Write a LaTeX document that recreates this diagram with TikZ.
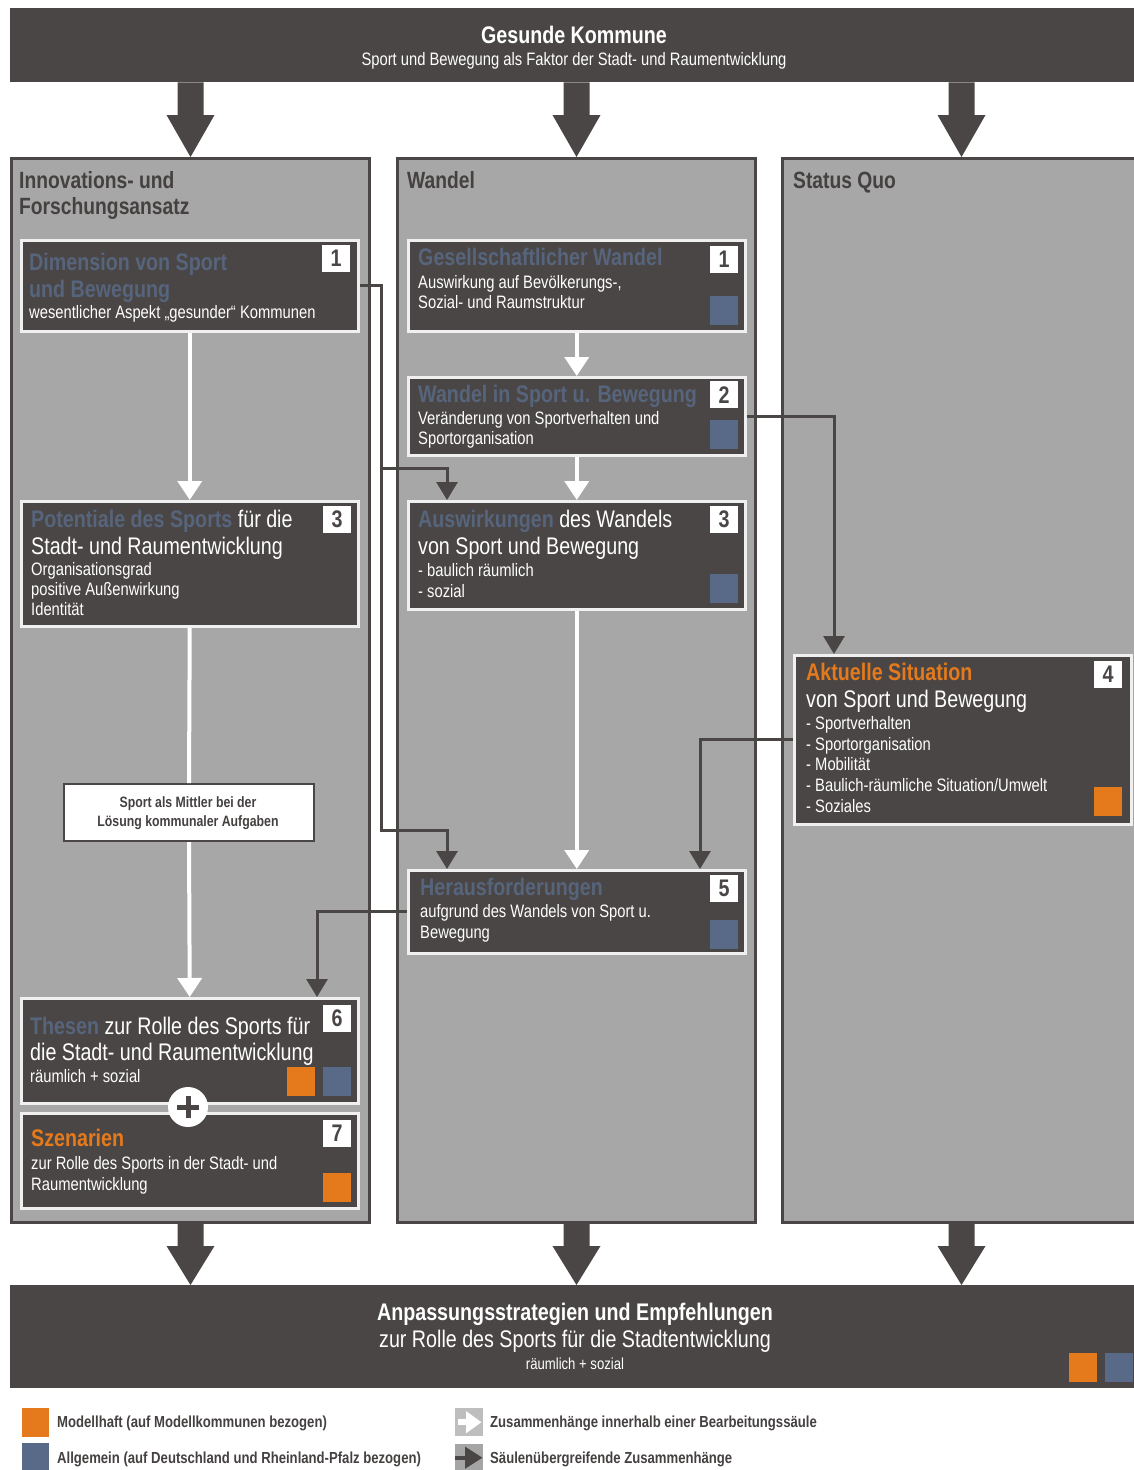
\documentclass[tikz,border=0pt]{standalone}
\usepackage{fontspec}
\setmainfont{Liberation Sans}[FakeStretch=0.82]
\usetikzlibrary{arrows.meta,calc}
\definecolor{dk}{RGB}{74,70,69}
\definecolor{colfill}{RGB}{167,167,167}
\definecolor{bluet}{RGB}{86,100,124}
\definecolor{blues}{RGB}{88,106,136}
\definecolor{orng}{RGB}{229,122,28}
\definecolor{hdr}{RGB}{68,65,64}
\definecolor{boxline}{RGB}{240,240,240}
\definecolor{iconA}{RGB}{190,190,190}
\definecolor{iconB}{RGB}{165,165,165}
\newcommand\myfs[1]{\fontsize{#1}{#1}\selectfont}
\begin{document}
\begin{tikzpicture}[x=1pt,y=-1pt,
  banner/.style={fill=dk, anchor=north west, inner sep=0pt},
  col/.style={draw=dk, line width=3pt, fill=colfill, anchor=north west, inner sep=0pt},
  box/.style={draw=boxline, line width=2.5pt, fill=dk, anchor=north west, inner sep=0pt, minimum width=337pt},
  num/.style={fill=white, anchor=north west, minimum width=28pt, minimum height=27pt, inner sep=0pt, font=\myfs{24}\bfseries, text=dk},
  sqo/.style={fill=orng, anchor=north west, minimum width=28pt, minimum height=29pt, inner sep=0pt},
  sqb/.style={fill=blues, anchor=north west, minimum width=28pt, minimum height=29pt, inner sep=0pt},
  txt/.style={anchor=base west, inner sep=0pt, text=white, font=\myfs{18}},
  ttl/.style={anchor=base west, inner sep=0pt, text=bluet, font=\myfs{24}\bfseries},
  big/.style={anchor=base west, inner sep=0pt, text=white, font=\myfs{24}},
  hd/.style={anchor=base west, inner sep=0pt, text=hdr, font=\myfs{23.5}\bfseries},
  leg/.style={anchor=base west, inner sep=0pt, text=hdr, font=\myfs{16}\bfseries},
  wline/.style={draw=white, line width=4pt},
  warrow/.style={wline, -{Triangle[width=24pt,length=19pt]}},
  darrow/.style={draw=dk, line width=3pt, -{Triangle[width=21pt,length=18pt]}}
]
\useasboundingbox (0,0) rectangle (1134,1470);
\fill[white] (0,0) rectangle (1134,1470);

% banners
\node[banner, minimum width=1126pt, minimum height=74pt] (top) at (10,8) {};
\node[anchor=base, inner sep=0pt, text=white, font=\myfs{24}\bfseries] (topT) at (574,43) {Gesunde Kommune};
\node[anchor=base, inner sep=0pt, text=white, font=\myfs{18}] (topS) at (574,65) {Sport und Bewegung als Faktor der Stadt- und Raumentwicklung};

% columns
\node[col, minimum width=358pt, minimum height=1064pt] (colL) at (10,157) {};
\node[col, minimum width=358pt, minimum height=1064pt] (colM) at (396,157) {};
\node[col, minimum width=358pt, minimum height=1064pt] (colR) at (781,157) {};

\node[banner, minimum width=1126pt, minimum height=103pt] (bot) at (10,1285) {};

% big arrows
\foreach \c in {colL,colM,colR}{
  \fill[dk] ($(top.south -| \c.north)+(-13,0)$) -- ($(top.south -| \c.north)+(13,0)$)
    -- ($(\c.north)+(13,-42)$) -- ($(\c.north)+(24,-42)$) -- (\c.north)
    -- ($(\c.north)+(-24,-42)$) -- ($(\c.north)+(-13,-42)$) -- cycle;
  \fill[dk] ($(\c.south)+(-13,0)$) -- ($(\c.south)+(13,0)$)
    -- ($(bot.north -| \c.south)+(13,-39)$) -- ($(bot.north -| \c.south)+(24,-39)$) -- (bot.north -| \c.south)
    -- ($(bot.north -| \c.south)+(-24,-39)$) -- ($(bot.north -| \c.south)+(-13,-39)$) -- cycle;
}

% column headers
\node[hd] (hL1) at (19,188) {Innovations- und};
\node[hd] (hL2) at (19,214) {Forschungsansatz};
\node[hd] (hM) at (407,188) {Wandel};
\node[hd] (hR) at (793,188) {Status Quo};

% ---- left column boxes
\node[box, minimum height=91pt] (L1) at (20,239) {};
\node[num] (n1L) at (322,245) {1};
\node[ttl] (L1a) at (29,270) {Dimension von Sport};
\node[ttl] (L1b) at (29,297) {und Bewegung};
\node[txt] (L1c) at (29,318) {wesentlicher Aspekt „gesunder“ Kommunen};

\node[box, minimum height=125pt] (L3) at (20,500) {};
\node[num] (n3L) at (323,506) {3};
\node[big] (L3a) at (31,527) {{\bfseries\color{bluet}Potentiale des Sports} für die};
\node[big] (L3b) at (31,554) {Stadt- und Raumentwicklung};
\node[txt] (L3c) at (31,575) {Organisationsgrad};
\node[txt] (L3d) at (31,595) {positive Außenwirkung};
\node[txt] (L3e) at (31,615) {Identität};

\node[draw=dk, line width=2pt, fill=white, anchor=north west, minimum width=250pt, minimum height=57pt, inner sep=0pt] (Mit) at (63,783) {};
\node[anchor=base, inner sep=0pt, text=hdr, font=\myfs{15}\bfseries] (Mita) at (188,807) {Sport als Mittler bei der};
\node[anchor=base, inner sep=0pt, text=hdr, font=\myfs{15}\bfseries] (Mitb) at (188,826) {Lösung kommunaler Aufgaben};

\node[box, minimum height=105pt] (L6) at (20,997) {};
\node[num] (n6L) at (323,1005) {6};
\node[big] (L6a) at (30,1034) {{\bfseries\color{bluet}Thesen} zur Rolle des Sports für};
\node[big] (L6b) at (30,1060) {die Stadt- und Raumentwicklung};
\node[txt] (L6c) at (30,1082) {räumlich + sozial};
\node[sqo] (L6o) at (287,1067) {};
\node[sqb] (L6q) at (323,1067) {};

\node[box, minimum height=95pt] (L7) at (20,1112) {};
\node[num] (n7L) at (323,1120) {7};
\node[ttl, text=orng] (L7a) at (31,1146) {Szenarien};
\node[txt] (L7b) at (31,1169) {zur Rolle des Sports in der Stadt- und};
\node[txt] (L7c) at (31,1190) {Raumentwicklung};
\node[sqo] (L7o) at (323,1173) {};

\node[circle, fill=white, minimum size=40pt, inner sep=0pt] (plus) at (188,1107) {};
\draw[dk, line width=5pt] ($(plus)+(-11,0)$) -- ($(plus)+(11,0)$);
\draw[dk, line width=5pt] ($(plus)+(0,-11)$) -- ($(plus)+(0,11)$);

% ---- middle column boxes
\node[box, minimum height=91pt] (M1) at (407,239) {};
\node[num] (n1M) at (710,246) {1};
\node[ttl] (M1a) at (418,265) {Gesellschaftlicher Wandel};
\node[txt] (M1b) at (418,288) {Auswirkung auf Bevölkerungs-,};
\node[txt] (M1c) at (418,308) {Sozial- und Raumstruktur};
\node[sqb] (M1q) at (710,296) {};

\node[box, minimum height=78pt] (M2) at (407,376) {};
\node[num] (n2M) at (710,381) {2};
\node[ttl] (M2a) at (418,402) {Wandel in Sport u. Bewegung};
\node[txt] (M2b) at (418,424) {Veränderung von Sportverhalten und};
\node[txt] (M2c) at (418,444) {Sportorganisation};
\node[sqb] (M2q) at (710,420) {};

\node[box, minimum height=108pt] (M3) at (407,500) {};
\node[num] (n3M) at (710,506) {3};
\node[big] (M3a) at (418,527) {{\bfseries\color{bluet}Auswirkungen} des Wandels};
\node[big] (M3b) at (418,554) {von Sport und Bewegung};
\node[txt] (M3c) at (418,576) {- baulich räumlich};
\node[txt] (M3d) at (418,597) {- sozial};
\node[sqb] (M3q) at (710,574) {};

\node[box, minimum height=83pt] (M5) at (407,869) {};
\node[num] (n5M) at (710,875) {5};
\node[ttl] (M5a) at (420,895) {Herausforderungen};
\node[txt] (M5b) at (420,917) {aufgrund des Wandels von Sport u.};
\node[txt] (M5c) at (420,938) {Bewegung};
\node[sqb] (M5q) at (710,920) {};

% ---- right column box
\node[box, minimum height=169pt] (R4) at (793,654) {};
\node[num] (n4R) at (1094,661) {4};
\node[ttl, text=orng] (R4a) at (806,680) {Aktuelle Situation};
\node[big] (R4b) at (806,707) {von Sport und Bewegung};
\node[txt] (R4c) at (806,729) {- Sportverhalten};
\node[txt] (R4d) at (806,750) {- Sportorganisation};
\node[txt] (R4e) at (806,770) {- Mobilität};
\node[txt] (R4f) at (806,791) {- Baulich-räumliche Situation/Umwelt};
\node[txt] (R4g) at (806,812) {- Soziales};
\node[sqo] (R4o) at (1094,787) {};

% ---- bottom banner text
\node[anchor=base, inner sep=0pt, text=white, font=\myfs{24}\bfseries] (botA) at (575,1320) {Anpassungsstrategien und Empfehlungen};
\node[anchor=base, inner sep=0pt, text=white, font=\myfs{24}] (botB) at (575,1347) {zur Rolle des Sports für die Stadtentwicklung};
\node[anchor=base, inner sep=0pt, text=white, font=\myfs{16}] (botC) at (575,1369) {räumlich + sozial};
\node[sqo] (botO) at (1069,1353) {};
\node[sqb] (botQ) at (1105,1353) {};

% ---- white connectors
\draw[warrow] (L1.south) -- (L3.north);
\draw[wline] (L3.south) -- (Mit.north);
\draw[warrow] (Mit.south) -- (L6.north);
\draw[warrow] (M1.south) -- (M2.north);
\draw[warrow] (M2.south) -- (M3.north);
\draw[warrow] (M3.south) -- (M5.north);

% ---- dark connectors
\coordinate (j1) at (381,468);
\coordinate (j2) at (381,830);
\coordinate (x447) at (447,0);
\coordinate (x834) at (834,0);
\coordinate (x700) at (700,0);
\coordinate (x317) at (317,0);
\draw[darrow] (L1.east) -- (L1.east -| j1) -- (j1) -- (j1 -| x447) -- (M3.north -| x447);
\draw[darrow] (j1) -- (j2) -- (j2 -| x447) -- (M5.north -| x447);
\draw[darrow] (M2.east) -- (M2.east -| x834) -- (R4.north -| x834);
\draw[darrow] (R4.west) -- (R4.west -| x700) -- (M5.north -| x700);
\draw[darrow] (M5.west) -- (M5.west -| x317) -- (L6.north -| x317);

% ---- legend
\node[sqo, minimum width=27pt] (lgO) at (22,1408) {};
\node[leg] (lgOt) at (57,1427) {Modellhaft (auf Modellkommunen bezogen)};
\node[sqb, minimum width=27pt, minimum height=27pt] (lgB) at (22,1443) {};
\node[leg] (lgBt) at (57,1463) {Allgemein (auf Deutschland und Rheinland-Pfalz bezogen)};
\node[fill=iconA, anchor=north west, minimum width=28pt, minimum height=28pt, inner sep=0pt] (ic1) at (455,1408) {};
\fill[white] ($(ic1.west)+(3,-3)$) rectangle ($(ic1.center)+(0,3)$);
\fill[white] ($(ic1.center)+(-3,-11)$) -- ($(ic1.east)+(-2,0)$) -- ($(ic1.center)+(-3,11)$) -- cycle;
\node[leg] (ic1t) at (490,1427) {Zusammenhänge innerhalb einer Bearbeitungssäule};
\node[fill=iconB, anchor=north west, minimum width=28pt, minimum height=27pt, inner sep=0pt] (ic2) at (455,1444) {};
\fill[dk] ($(ic2.west)+(0,-2)$) rectangle ($(ic2.center)+(0,2)$);
\fill[dk] ($(ic2.center)+(-4,-11)$) -- ($(ic2.east)+(-1,0)$) -- ($(ic2.center)+(-4,11)$) -- cycle;
\node[leg] (ic2t) at (490,1463) {Säulenübergreifende Zusammenhänge};
\end{tikzpicture}
\end{document}
